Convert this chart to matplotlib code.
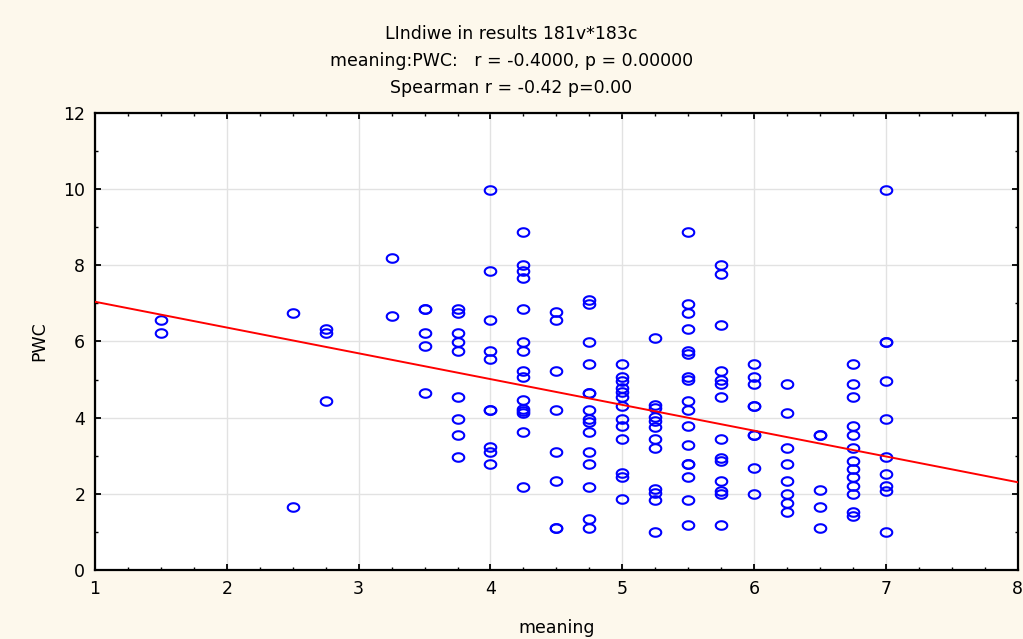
import numpy as np
import matplotlib.pyplot as plt
from matplotlib.path import Path
from matplotlib.ticker import MultipleLocator

plt.rcParams['font.family'] = ['DejaVu Sans']

# values, one list per meaning level
meaning_levels = [1.5, 2.5, 2.75, 3.25, 3.5, 3.75, 4.0, 4.25, 4.5, 4.75,
                  5.0, 5.25, 5.5, 5.75, 6.0, 6.25, 6.5, 6.75, 7.0]
pwc_values = [
    [6.56, 6.22],
    [6.76, 1.65],
    [6.33, 6.22, 4.45],
    [8.19, 6.66],
    [6.85, 6.85, 6.22, 5.89, 4.64],
    [6.85, 6.76, 6.22, 5.98, 5.74, 4.53, 3.96, 3.54, 2.96],
    [9.97, 7.85, 6.57, 5.75, 5.55, 4.21, 4.21, 3.22, 3.10, 2.77],
    [8.87, 8.01, 7.86, 7.67, 6.85, 5.99, 5.74, 5.23, 5.08, 4.46, 4.24, 4.18,
     4.11, 3.63, 2.19],
    [6.77, 6.57, 5.22, 4.21, 3.10, 2.33, 1.09, 1.09],
    [7.09, 6.99, 5.98, 5.41, 4.65, 4.65, 4.21, 3.97, 3.88, 3.63, 3.10, 2.77,
     2.19, 1.33, 1.09],
    [5.41, 5.08, 4.97, 4.77, 4.67, 4.55, 4.31, 3.97, 3.78, 3.45, 2.54, 2.45,
     1.86],
    [6.08, 4.33, 4.25, 4.01, 3.92, 3.76, 3.45, 3.20, 2.12, 2.01, 1.84, 0.99],
    [8.87, 6.99, 6.76, 6.32, 5.74, 5.66, 5.08, 4.98, 4.45, 4.21, 3.77, 3.29,
     2.78, 2.78, 2.43, 1.85, 1.18],
    [8.00, 7.76, 6.42, 5.22, 4.99, 4.89, 4.53, 3.44, 2.95, 2.87, 2.33, 2.08,
     2.00, 1.18],
    [5.41, 5.08, 4.89, 4.31, 4.31, 3.54, 3.54, 2.68, 2.00],
    [4.88, 4.11, 3.20, 2.77, 2.33, 2.00, 1.77, 1.52],
    [3.54, 3.54, 2.09, 1.66, 1.09],
    [5.41, 4.88, 4.54, 3.77, 3.54, 3.20, 2.86, 2.66, 2.43, 2.21, 2.00, 1.52,
     1.43],
    [9.97, 5.99, 5.99, 4.97, 3.96, 2.96, 2.53, 2.21, 2.08, 0.99],
]

# regression line as shown
fit_intercept = 7.72
fit_slope = -0.677

title_lines = ['LIndiwe in results 181v*183c',
               'meaning:PWC:   r = -0.4000, p = 0.00000',
               'Spearman r = -0.42 p=0.00']

x = np.concatenate([[m] * len(v) for m, v in zip(meaning_levels, pwc_values)])
y = np.concatenate(pwc_values)

bg = '#fdf8ec'
fig = plt.figure(figsize=(10.23, 6.39), dpi=100, facecolor=bg)
ax = fig.add_axes([0.0929, 0.108, 0.902, 0.7152])
ax.set_facecolor('white')

# slightly flattened circle marker
t = np.linspace(0, 2 * np.pi, 60)
ellipse = Path(np.column_stack([np.cos(t), 0.74 * np.sin(t)]), closed=True)

ax.plot(x, y, linestyle='none', marker=ellipse, markersize=8.3,
        markerfacecolor='none', markeredgecolor='#0000ff', markeredgewidth=1.5,
        zorder=3)

xs = np.array([1, 8])
ax.plot(xs, fit_intercept + fit_slope * xs, color='#ff0000', lw=1.4, zorder=4)

ax.set_xlim(1, 8)
ax.set_ylim(0, 12)
ax.xaxis.set_major_locator(MultipleLocator(1))
ax.xaxis.set_minor_locator(MultipleLocator(0.25))
ax.yaxis.set_major_locator(MultipleLocator(2))
ax.yaxis.set_minor_locator(MultipleLocator(1))
ax.grid(True, which='major', color='#e2e2e2', lw=1)
ax.set_axisbelow(True)
ax.tick_params(which='both', direction='in', top=True, right=True,
               color='black', labelsize=12.5)
ax.tick_params(which='major', length=4, width=1.3)
ax.tick_params(which='minor', length=2.5, width=1)
ax.tick_params(axis='x', pad=7)
ax.tick_params(axis='y', pad=7)
for s in ax.spines.values():
    s.set_linewidth(1.6)
    s.set_color('black')

ax.set_xlabel('meaning', fontsize=12.5, labelpad=15)
ax.set_ylabel('PWC', fontsize=12.5, labelpad=11)

for i, line in enumerate(title_lines):
    fig.text(0.5, 0.947 - i * 0.042, line, ha='center', va='center',
             fontsize=12.5)

fig.savefig('out.png', dpi=100, facecolor=bg)
